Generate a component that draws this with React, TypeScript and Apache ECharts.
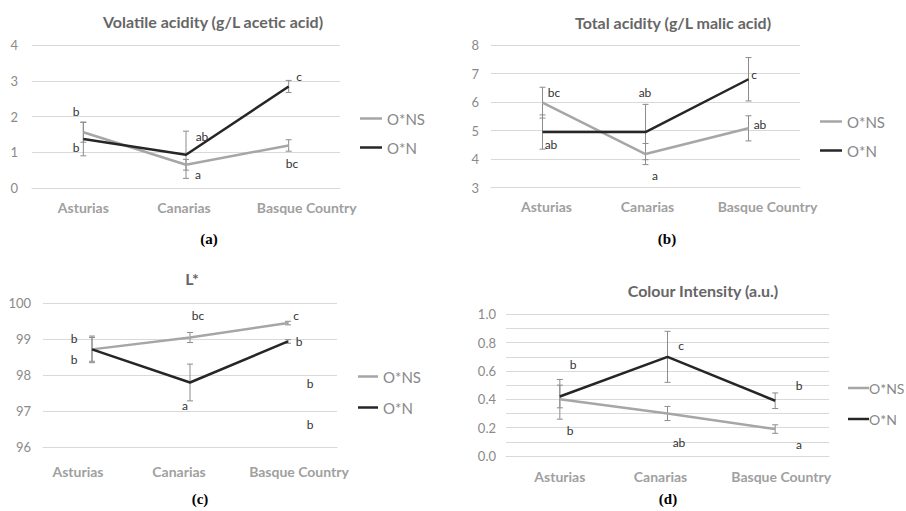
import React, { useEffect, useRef } from "react";
import * as echarts from "echarts";

// ---------- data ----------
const CATEGORIES = ["Asturias", "Canarias", "Basque Country"];
const SERIES_NAMES = ["O*NS", "O*N"];

// (a) Volatile acidity
const VA_TITLE = "Volatile acidity (g/L acetic acid)";
const VA_TICKS = [0, 1, 2, 3, 4];
const VA_ONS = [1.56, 0.65, 1.19];
const VA_ONS_ERR = [0.28, 0.15, 0.16];
const VA_ON = [1.37, 0.93, 2.84];
const VA_ON_ERR = [0.47, 0.66, 0.17];
const VA_LETTERS = ["b", "b", "ab", "a", "c", "bc"];
const VA_LETTER_CAT = [0, 0, 1, 1, 2, 2];
const VA_LETTER_Y = [2.14, 1.15, 1.46, 0.38, 3.12, 0.7];

// (b) Total acidity
const TA_TITLE = "Total acidity (g/L malic acid)";
const TA_TICKS = [3, 4, 5, 6, 7, 8];
const TA_ONS = [5.98, 4.18, 5.08];
const TA_ONS_ERR = [0.54, 0.37, 0.44];
const TA_ON = [4.95, 4.95, 6.8];
const TA_ON_ERR = [0.6, 0.97, 0.76];
const TA_LETTERS = ["bc", "ab", "ab", "a", "c", "ab"];
const TA_LETTER_CAT = [0, 0, 1, 1, 2, 2];
const TA_LETTER_Y = [6.36, 4.53, 6.36, 3.44, 7.0, 5.23];

// (c) L*
const L_TITLE = "L*";
const L_TICKS = [96, 97, 98, 99, 100];
const L_ONS = [98.72, 99.05, 99.45];
const L_ONS_ERR = [0.37, 0.14, 0.05];
const L_ON = [98.72, 97.8, 98.94];
const L_ON_ERR = [0.33, 0.51, 0.05];
const L_LETTERS = ["b", "b", "bc", "a", "c", "b", "b", "b"];
const L_LETTER_CAT = [0, 0, 1, 1, 2, 2, 2, 2];
const L_LETTER_Y = [99.05, 98.45, 99.68, 97.18, 99.68, 98.94, 97.8, 96.64];

// (d) Colour intensity
const CI_TITLE = "Colour Intensity (a.u.)";
const CI_TICKS = [0.0, 0.2, 0.4, 0.6, 0.8, 1.0];
const CI_ONS = [0.4, 0.3, 0.19];
const CI_ONS_ERR = [0.14, 0.05, 0.03];
const CI_ON = [0.42, 0.7, 0.39];
const CI_ON_ERR = [0.08, 0.18, 0.055];
const CI_LETTERS = ["b", "b", "c", "ab", "b", "a"];
const CI_LETTER_CAT = [0, 0, 1, 1, 2, 2];
const CI_LETTER_Y = [0.65, 0.18, 0.78, 0.096, 0.5, 0.085];

const CAPTIONS = ["(a)", "(b)", "(c)", "(d)"];

// ---------- styles / layout ----------
const FONT = "Lato, 'Open Sans', sans-serif";
const GRAY_LINE = "#a6a6a6";
const BLACK_LINE = "#262626";
const ERR_COLOR = "#8c8c8c";
const GRID_COLOR = "#d9d9d9";

const PANELS = [
  {
    title: VA_TITLE, ticks: VA_TICKS, minorStep: 1, ons: VA_ONS, onsErr: VA_ONS_ERR, on: VA_ON, onErr: VA_ON_ERR,
    letters: VA_LETTERS, letterCat: VA_LETTER_CAT, letterY: VA_LETTER_Y, decimals: 0,
    layout: {
      grid: { left: 32, top: 45, width: 308, height: 143 },
      titleXY: [213, 21], captionXY: [209, 239],
      legend: { left: 355, top: 106, itemGap: 6, itemWidth: 22, fontSize: 15, textPad: 0 },
      yMargin: 14, xMargin: 12, labelShift: [0, -2, 18],
      letterDx: [-7, -7, 16, 12, 10, 3],
    },
  },
  {
    title: TA_TITLE, ticks: TA_TICKS, minorStep: 1, ons: TA_ONS, onsErr: TA_ONS_ERR, on: TA_ON, onErr: TA_ON_ERR,
    letters: TA_LETTERS, letterCat: TA_LETTER_CAT, letterY: TA_LETTER_Y, decimals: 0,
    layout: {
      grid: { left: 491, top: 45, width: 309, height: 142.7 },
      titleXY: [673, 22], captionXY: [667, 239],
      legend: { left: 815, top: 109, itemGap: 6, itemWidth: 22, fontSize: 15, textPad: 0 },
      yMargin: 12, xMargin: 12, labelShift: [4, 2, 19],
      letterDx: [11, 8, -1, 9, 5, 11],
    },
  },
  {
    title: L_TITLE, ticks: L_TICKS, minorStep: 1, ons: L_ONS, onsErr: L_ONS_ERR, on: L_ON, onErr: L_ON_ERR,
    letters: L_LETTERS, letterCat: L_LETTER_CAT, letterY: L_LETTER_Y, decimals: 0,
    layout: {
      grid: { left: 43, top: 303.3, width: 294, height: 144 },
      titleXY: [192, 278], captionXY: [200, 499],
      legend: { left: 353, top: 364, itemGap: 8, itemWidth: 20, fontSize: 15, textPad: 0 },
      yMargin: 12, xMargin: 17, labelShift: [-14, -11, 11],
      letterDx: [-18, -18, 8, -5, 8, 11, 22, 22],
    },
  },
  {
    title: CI_TITLE, ticks: CI_TICKS, minorStep: 0.1, ons: CI_ONS, onsErr: CI_ONS_ERR, on: CI_ON, onErr: CI_ON_ERR,
    letters: CI_LETTERS, letterCat: CI_LETTER_CAT, letterY: CI_LETTER_Y, decimals: 1,
    layout: {
      grid: { left: 506, top: 314.3, width: 323, height: 141.7 },
      titleXY: [703, 290], captionXY: [668, 499],
      legend: { left: 843, top: 376, itemGap: 9, itemWidth: 21, fontSize: 14, textPad: -5 },
      yMargin: 10, xMargin: 13, labelShift: [0, -7, 6],
      letterDx: [13, 10, 13, 11, 24, 24],
    },
  },
];

function buildOption() {
  const grid: any[] = [];
  const xAxis: any[] = [];
  const yAxis: any[] = [];
  const series: any[] = [];
  const legend: any[] = [];
  const graphic: any[] = [];

  PANELS.forEach((p, i) => {
    const L = p.layout;
    grid.push({ ...L.grid, containLabel: false, outerBoundsMode: "none" });
    const ticks = p.ticks;
    const labelStep = ticks[1] - ticks[0];
    xAxis.push({
      type: "category",
      gridIndex: i,
      data: CATEGORIES.map((c, k) => {
        const s = L.labelShift[k];
        return {
          value: c,
          textStyle: { padding: s >= 0 ? [0, 0, 0, 2 * s] : [0, -2 * s, 0, 0] },
        };
      }),
      boundaryGap: true,
      axisLine: { show: true, lineStyle: { color: GRID_COLOR, width: 1 } },
      axisTick: { show: false },
      axisLabel: {
        margin: L.xMargin,
        color: "#a0a0a0",
        fontFamily: FONT,
        fontWeight: "bold",
        fontSize: 14,
        interval: 0,
      },
      splitLine: { show: false },
    });
    yAxis.push({
      type: "value",
      gridIndex: i,
      min: ticks[0],
      max: ticks[ticks.length - 1],
      interval: p.minorStep,
      axisLine: { show: false },
      axisTick: { show: false },
      axisLabel: {
        margin: L.yMargin,
        color: "#8a8a8a",
        fontFamily: FONT,
        fontSize: 13,
        formatter: (v: number) => {
          const r = Math.round((v - ticks[0]) / p.minorStep);
          const stepRatio = Math.round(labelStep / p.minorStep);
          return r % stepRatio === 0 ? v.toFixed(p.decimals) : "";
        },
      },
      splitLine: { show: true, lineStyle: { color: GRID_COLOR, width: 1 } },
    });

    const mkErr = (vals: number[], errs: number[]) =>
      vals.map((v, k) => [k, v - errs[k], v + errs[k]]);

    const errSeries = (name: string, vals: number[], errs: number[]) => ({
      type: "custom",
      name,
      xAxisIndex: i,
      yAxisIndex: i,
      z: 1,
      silent: true,
      encode: { x: 0, y: [1, 2] },
      data: mkErr(vals, errs),
      renderItem: (params: any, api: any) => {
        const x = api.value(0);
        const top = api.coord([x, api.value(2)]);
        const bot = api.coord([x, api.value(1)]);
        const w = 3;
        const st = { stroke: ERR_COLOR, lineWidth: 1 };
        return {
          type: "group",
          children: [
            { type: "line", shape: { x1: top[0], y1: top[1], x2: bot[0], y2: bot[1] }, style: st },
            { type: "line", shape: { x1: top[0] - w, y1: top[1], x2: top[0] + w, y2: top[1] }, style: st },
            { type: "line", shape: { x1: bot[0] - w, y1: bot[1], x2: bot[0] + w, y2: bot[1] }, style: st },
          ],
        };
      },
    });

    series.push(errSeries("errNS" + i, p.ons, p.onsErr));
    series.push(errSeries("errN" + i, p.on, p.onErr));
    series.push({
      type: "line",
      name: SERIES_NAMES[0],
      xAxisIndex: i,
      yAxisIndex: i,
      data: p.ons,
      symbol: "none",
      z: 2,
      color: GRAY_LINE,
      lineStyle: { color: GRAY_LINE, width: 2.5 },
      itemStyle: { color: GRAY_LINE },
    });
    series.push({
      type: "line",
      name: SERIES_NAMES[1],
      xAxisIndex: i,
      yAxisIndex: i,
      data: p.on,
      symbol: "none",
      z: 3,
      color: BLACK_LINE,
      lineStyle: { color: BLACK_LINE, width: 2.5 },
      itemStyle: { color: BLACK_LINE },
    });
    // significance letters
    series.push({
      type: "custom",
      name: "letters" + i,
      xAxisIndex: i,
      yAxisIndex: i,
      z: 4,
      silent: true,
      clip: false,
      color: "#333333",
      itemStyle: { color: "#333333" },
      encode: { x: 0, y: 1 },
      data: p.letters.map((t, k) => [p.letterCat[k], p.letterY[k]]),
      renderItem: (params: any, api: any) => {
        const pt = api.coord([api.value(0), api.value(1)]);
        const k = params.dataIndex;
        return {
          type: "text",
          x: Math.round(pt[0] + L.letterDx[k]),
          y: Math.round(pt[1]),
          style: {
            text: p.letters[k],
            align: "center",
            verticalAlign: "middle",
            fill: "#333333",
            font: `12px ${FONT}`,
          },
        };
      },
    });

    legend.push({
      orient: "vertical",
      left: L.legend.left,
      top: L.legend.top,
      itemWidth: L.legend.itemWidth,
      itemHeight: 2.5,
      itemGap: L.legend.itemGap + 8,
      icon: "rect",
      data: SERIES_NAMES,
      selectedMode: false,
      textStyle: {
        color: "#888888",
        fontFamily: FONT,
        fontSize: L.legend.fontSize,
        padding: [0, 0, 0, L.legend.textPad],
      },
    });

    graphic.push({
      type: "text",
      x: L.titleXY[0],
      y: L.titleXY[1],
      style: {
        text: p.title,
        align: "center",
        verticalAlign: "middle",
        fill: "#666666",
        font: `bold 16px ${FONT}`,
      },
    });
    graphic.push({
      type: "text",
      x: L.captionXY[0],
      y: L.captionXY[1],
      style: {
        text: CAPTIONS[i],
        align: "center",
        verticalAlign: "middle",
        fill: "#000000",
        font: `bold 15px 'Liberation Serif', 'Times New Roman', serif`,
      },
    });
  });

  return {
    animation: false,
    backgroundColor: "#ffffff",
    grid,
    xAxis,
    yAxis,
    series,
    legend,
    graphic,
  };
}

export default function App() {
  const ref = useRef<HTMLDivElement>(null);
  useEffect(() => {
    if (!ref.current) return;
    const chart = echarts.init(ref.current, undefined, { renderer: "svg" });
    chart.setOption(buildOption() as any);
    return () => chart.dispose();
  }, []);
  return (
    <div
      ref={ref}
      style={{ position: "absolute", left: 0, top: 0, width: 906, height: 511 }}
    />
  );
}
